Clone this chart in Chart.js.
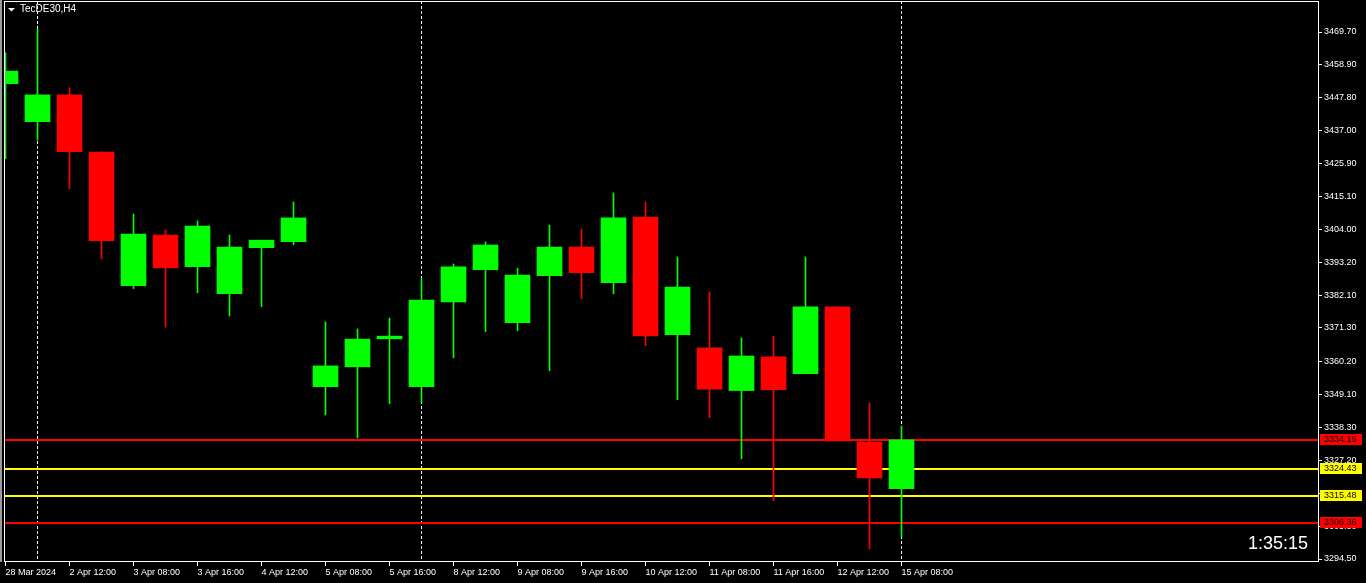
<!DOCTYPE html>
<html>
<head>
<meta charset="utf-8">
<script src="https://cdn.jsdelivr.net/npm/chart.js@4.4.0/dist/chart.umd.min.js"></script>
<style>
  html, body { margin: 0; padding: 0; background: #000; overflow: hidden; }
  canvas { display: block; }
</style>
</head>
<body>
<canvas id="chart" width="1366" height="583"></canvas>
<script>
// TecDE30 H4 candles
const opens  = [3452.5, 3439.9, 3448.8, 3429.8, 3385.4, 3402.2, 3391.7, 3382.7, 3398.0, 3400.0,
                3351.8, 3358.4, 3367.7, 3351.8, 3380.0, 3390.7, 3373.1, 3388.7, 3398.2, 3386.4,
                3408.2, 3369.1, 3364.7, 3350.5, 3361.7, 3356.1, 3378.3, 3333.4, 3317.9];
const highs  = [3462.8, 3470.6, 3451.2, 3429.9, 3409.2, 3403.9, 3406.9, 3402.2, 3400.5, 3413.2,
                3373.3, 3371.0, 3374.6, 3387.7, 3392.6, 3399.9, 3391.2, 3405.5, 3404.2, 3416.2,
                3413.2, 3394.9, 3383.3, 3368.0, 3368.6, 3394.9, 3378.3, 3346.4, 3338.7];
const lows   = [3427.6, 3433.8, 3417.6, 3394.3, 3384.4, 3371.6, 3383.0, 3375.3, 3378.4, 3399.0,
                3342.4, 3334.7, 3346.1, 3346.5, 3361.4, 3370.1, 3370.4, 3357.1, 3381.0, 3382.7,
                3365.4, 3347.5, 3341.5, 3327.8, 3313.9, 3356.1, 3333.8, 3297.9, 3301.8];
const closes = [3456.7, 3448.8, 3429.9, 3400.3, 3402.5, 3391.3, 3405.2, 3398.2, 3400.5, 3407.9,
                3358.7, 3367.6, 3368.6, 3380.6, 3391.6, 3398.9, 3388.9, 3398.2, 3389.7, 3407.9,
                3368.7, 3384.9, 3351.0, 3362.0, 3350.8, 3378.3, 3333.8, 3321.5, 3334.15];

const timeTickIdx  = [0, 2, 4, 6, 8, 10, 12, 14, 16, 18, 20, 22, 24, 26, 28];
const timeTickText = ['28 Mar 2024', '2 Apr 12:00', '3 Apr 08:00', '3 Apr 16:00', '4 Apr 12:00',
                      '5 Apr 08:00', '5 Apr 16:00', '8 Apr 12:00', '9 Apr 08:00', '9 Apr 16:00',
                      '10 Apr 12:00', '11 Apr 08:00', '11 Apr 16:00', '12 Apr 12:00', '15 Apr 08:00'];

const priceTicks = [3469.70, 3458.90, 3447.80, 3437.00, 3425.90, 3415.10, 3404.00, 3393.20, 3382.10,
                    3371.30, 3360.20, 3349.10, 3338.30, 3327.20, 3316.40, 3305.30, 3294.50];

const levelPrices = [3334.15, 3324.43, 3315.48, 3306.36];
const levelColors = ['#ff0000', '#ffff00', '#ffff00', '#ff0000'];
const separatorIdx = [1, 13, 28];

const symbolText = 'TecDE30,H4';
const timerText = '1:35:15';

Chart.defaults.font.family = '"Liberation Sans", Arial, sans-serif';
Chart.defaults.font.size = 9;
Chart.defaults.color = '#ffffff';

const candleColors = opens.map((o, i) => closes[i] >= o ? '#00ff00' : '#ff0000');
const wickData = opens.map((o, i) => ({ x: i, y: [lows[i], highs[i]] }));
const bodyData = opens.map((o, i) => ({ x: i, y: [o, closes[i]] }));

// separators and level lines go behind the candles
const backLines = {
    id: 'backLines',
    beforeDatasetsDraw(chart) {
        const { ctx, chartArea, scales } = chart;
        ctx.save();
        ctx.strokeStyle = '#ffffff';
        ctx.lineWidth = 1;
        ctx.setLineDash([3, 2]);
        separatorIdx.forEach(i => {
            const x = Math.round(scales.x.getPixelForValue(i) - 0.5) + 0.5;
            ctx.beginPath();
            ctx.moveTo(x, chartArea.top);
            ctx.lineTo(x, chartArea.bottom);
            ctx.stroke();
        });
        ctx.setLineDash([]);
        levelPrices.forEach((p, k) => {
            const y = Math.round(scales.y.getPixelForValue(p));
            ctx.fillStyle = levelColors[k];
            ctx.fillRect(chartArea.left, y - 1, chartArea.right - chartArea.left, 2);
        });
        ctx.restore();
    }
};

// frame, price tags, symbol and bar timer
const overlay = {
    id: 'overlay',
    afterDraw(chart) {
        const { ctx, chartArea, scales } = chart;
        ctx.save();
        ctx.fillStyle = '#9a9a9a';
        ctx.fillRect(0, 0, 2, chartArea.bottom);

        ctx.strokeStyle = '#ffffff';
        ctx.lineWidth = 1;
        ctx.strokeRect(chartArea.left + 0.5, chartArea.top + 0.5,
                       chartArea.right - chartArea.left, chartArea.bottom - chartArea.top - 1);

        ctx.font = '9px "Liberation Sans", Arial, sans-serif';
        ctx.textBaseline = 'middle';
        ctx.textAlign = 'left';
        levelPrices.forEach((p, k) => {
            const y = scales.y.getPixelForValue(p);
            ctx.fillStyle = levelColors[k];
            ctx.fillRect(chartArea.right + 2, Math.round(y) - 6, 42, 11);
            ctx.fillStyle = '#000000';
            ctx.fillText(p.toFixed(2), chartArea.right + 6, Math.round(y));
        });

        ctx.fillStyle = '#ffffff';
        ctx.beginPath();
        ctx.moveTo(8, 8);
        ctx.lineTo(15, 8);
        ctx.lineTo(11.5, 11.5);
        ctx.closePath();
        ctx.fill();
        ctx.font = '10px "Liberation Sans", Arial, sans-serif';
        ctx.fillText(symbolText, 20, 9.5);

        ctx.font = '18px "Liberation Sans", Arial, sans-serif';
        ctx.textAlign = 'right';
        ctx.textBaseline = 'alphabetic';
        ctx.fillText(timerText, 1308, 549);
        ctx.restore();
    }
};

new Chart(document.getElementById('chart'), {
    type: 'bar',
    data: {
        datasets: [{
            label: 'wicks',
            data: wickData,
            backgroundColor: candleColors,
            barThickness: 1,
            grouped: false,
            borderWidth: 0
        }, {
            label: 'bodies',
            data: bodyData,
            backgroundColor: candleColors,
            barThickness: 25,
            grouped: false,
            borderWidth: 0
        }]
    },
    options: {
        responsive: false,
        animation: false,
        devicePixelRatio: 1,
        layout: { padding: { left: 4, top: 1, right: 0, bottom: 0 } },
        plugins: { legend: { display: false }, tooltip: { enabled: false } },
        scales: {
            x: {
                type: 'linear',
                min: -1.5 / 32,
                max: -1.5 / 32 + 1314 / 32,
                offset: false,
                border: { display: false },
                grid: { drawOnChartArea: false, drawTicks: true, tickLength: 4, color: '#ffffff', offset: false },
                afterBuildTicks: scale => { scale.ticks = timeTickIdx.map(v => ({ value: v })); },
                afterFit: scale => {
                    scale.height = 21;
                    scale.paddingLeft = 0;
                    scale.paddingRight = 0;
                },
                ticks: {
                    autoSkip: false,
                    maxRotation: 0,
                    align: 'start',
                    padding: 1,
                    color: '#ffffff',
                    callback: value => {
                        const k = timeTickIdx.indexOf(value);
                        return k >= 0 ? timeTickText[k] : '';
                    }
                }
            },
            y: {
                type: 'linear',
                position: 'right',
                min: 3480.01 - 561 / 3.008,
                max: 3480.01,
                border: { display: false },
                grid: { drawOnChartArea: false, drawTicks: true, tickLength: 4, color: '#ffffff' },
                afterBuildTicks: scale => { scale.ticks = priceTicks.map(v => ({ value: v })); },
                afterFit: scale => {
                    scale.width = 48;
                    scale.paddingTop = 0;
                    scale.paddingBottom = 0;
                },
                ticks: {
                    padding: 2,
                    color: '#ffffff',
                    callback: value => value.toFixed(2)
                }
            }
        }
    },
    plugins: [backLines, overlay]
});
</script>
</body>
</html>
